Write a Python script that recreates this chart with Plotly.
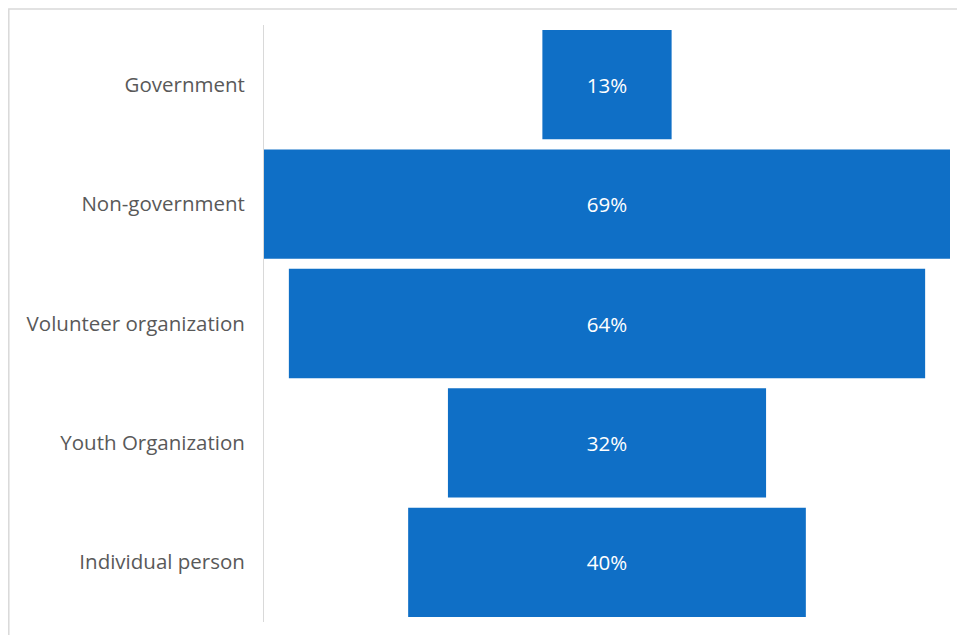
import plotly.graph_objects as go

# Share of respondents by type of organization
categories = ["Government", "Non-government", "Volunteer organization",
              "Youth Organization", "Individual person"]
values = [13, 69, 64, 32, 40]

BLUE = "#0f6fc6"
GREY_TEXT = "#595959"
GRID = "#d9d9d9"
FONT = "Open Sans"

fig = go.Figure(go.Funnel(
    y=categories,
    x=values,
    texttemplate="%{x}%",
    textposition="inside",
    insidetextanchor="middle",
    textfont=dict(color="white", size=20.5, family=FONT),
    marker=dict(color=BLUE, line=dict(width=0)),
    connector=dict(visible=False),
    hoverinfo="y+x",
))

fig.update_layout(
    width=957, height=635,
    margin=dict(l=264, r=7, t=25, b=13),
    paper_bgcolor="white",
    plot_bgcolor="white",
    showlegend=False,
    funnelgap=0.085,
    font=dict(family=FONT, color=GREY_TEXT, size=20.5),
    xaxis=dict(visible=False, range=[-34.5, 34.5], fixedrange=True),
    yaxis=dict(
        showline=True, linecolor=GRID, linewidth=1,
        showgrid=False, ticks="", ticklabelstandoff=14,
        tickfont=dict(size=20.5, color=GREY_TEXT, family=FONT),
    ),
    # thin frame around the chart area
    shapes=[dict(
        type="rect", xref="paper", yref="paper",
        x0=-0.372, x1=1.2, y0=-0.2, y1=1.027,
        line=dict(color=GRID, width=1.5), fillcolor="rgba(0,0,0,0)",
        layer="below",
    )],
)

fig.write_html("out.html")
